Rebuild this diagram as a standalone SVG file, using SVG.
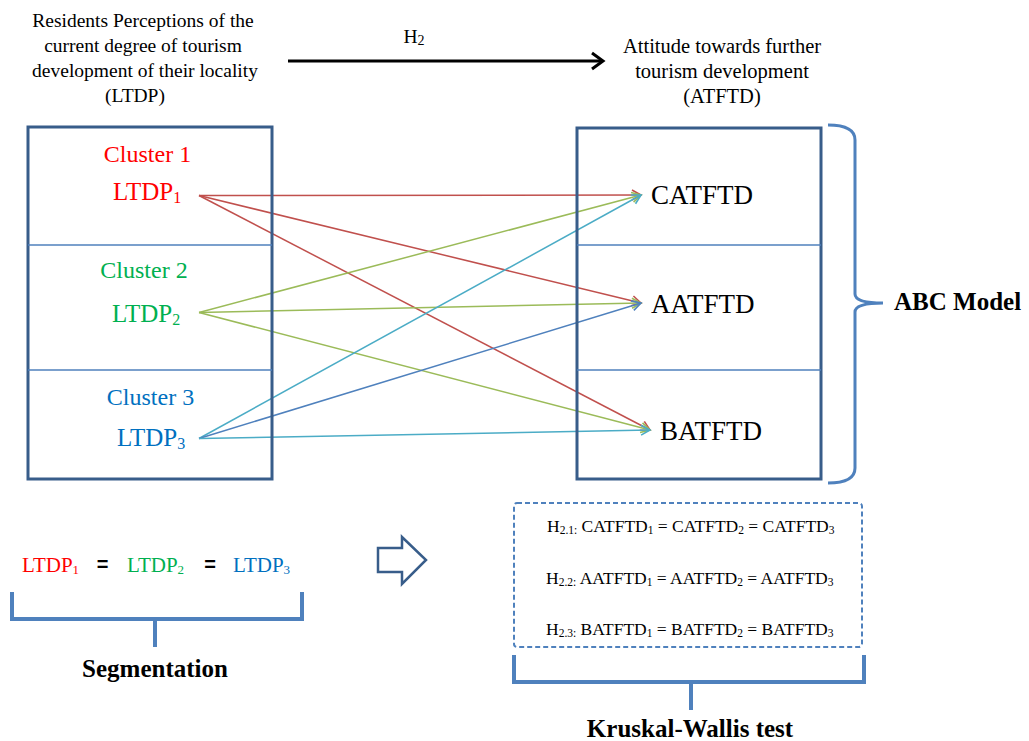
<svg xmlns="http://www.w3.org/2000/svg" width="1029" height="741" viewBox="0 0 1029 741" font-family="Liberation Serif, Times New Roman, serif">
<defs>
<style>
.hdr{font-size:19.5px;text-anchor:middle}
.hdr2{font-size:20.5px;text-anchor:middle}
.cl{font-size:24px;text-anchor:middle}
.lt{font-size:25px}
.at{font-size:27px}
.bold{font-weight:bold;font-size:25px}
.f{font-size:17.5px}
.sub{font-size:11.5px}
.red{fill:#FF0000}.grn{fill:#00B050}.blu{fill:#0070C0}
.box{fill:none;stroke:#385D8A;stroke-width:3}
.div{stroke:#4F81BD;stroke-width:1.5}
.br{fill:none;stroke:#4F81BD;stroke-width:4}
.c{fill:none;stroke-width:1.5}
</style>
<marker id="mr" markerUnits="userSpaceOnUse" markerWidth="12" markerHeight="12" refX="9" refY="5" orient="auto" overflow="visible"><path d="M0,0 L9,5 L0,10" fill="none" stroke="#C0504D" stroke-width="1.6"/></marker>
<marker id="mg" markerUnits="userSpaceOnUse" markerWidth="12" markerHeight="12" refX="9" refY="5" orient="auto" overflow="visible"><path d="M0,0 L9,5 L0,10" fill="none" stroke="#9BBB59" stroke-width="1.6"/></marker>
<marker id="mc" markerUnits="userSpaceOnUse" markerWidth="12" markerHeight="12" refX="9" refY="5" orient="auto" overflow="visible"><path d="M0,0 L9,5 L0,10" fill="none" stroke="#4BACC6" stroke-width="1.6"/></marker>
<marker id="mb" markerUnits="userSpaceOnUse" markerWidth="12" markerHeight="12" refX="9" refY="5" orient="auto" overflow="visible"><path d="M0,0 L9,5 L0,10" fill="none" stroke="#4F81BD" stroke-width="1.6"/></marker>
</defs>
<rect width="1029" height="741" fill="#fff"/>

<g id="ltdp-header">
<text class="hdr" x="143" y="27">Residents Perceptions of the</text>
<text class="hdr" x="143" y="52">current degree of tourism</text>
<text class="hdr" x="145" y="77">development of their locality</text>
<text class="hdr" x="135" y="102">(LTDP)</text>
</g>

<g id="atftd-header">
<text class="hdr2" x="722" y="53">Attitude towards further</text>
<text class="hdr2" x="722" y="78">tourism development</text>
<text class="hdr2" x="722" y="103">(ATFTD)</text>
</g>

<g id="h2-arrow">
<text class="hdr" x="414" y="43" font-size="21px">H<tspan font-size="14px" dy="2">2</tspan></text>
<line x1="288" y1="61" x2="602" y2="61" stroke="#000" stroke-width="3"/>
<path d="M592,53 L603,61 L592,69" fill="none" stroke="#000" stroke-width="3"/>
</g>

<g id="connectors">
<line class="c" stroke="#C0504D" x1="199" y1="195.5" x2="641" y2="195" marker-end="url(#mr)"/>
<line class="c" stroke="#C0504D" x1="199" y1="195.5" x2="641" y2="303" marker-end="url(#mr)"/>
<line class="c" stroke="#C0504D" x1="199" y1="195.5" x2="650" y2="430" marker-end="url(#mr)"/>
<line class="c" stroke="#9BBB59" x1="199" y1="312.5" x2="641" y2="195" marker-end="url(#mg)"/>
<line class="c" stroke="#9BBB59" x1="199" y1="312.5" x2="641" y2="303" marker-end="url(#mg)"/>
<line class="c" stroke="#9BBB59" x1="199" y1="312.5" x2="650" y2="430" marker-end="url(#mg)"/>
<line class="c" stroke="#4BACC6" x1="199" y1="438.5" x2="641" y2="195" marker-end="url(#mc)"/>
<line class="c" stroke="#4F81BD" x1="199" y1="438.5" x2="641" y2="303" marker-end="url(#mb)"/>
<line class="c" stroke="#4BACC6" x1="199" y1="438.5" x2="650" y2="430" marker-end="url(#mc)"/>
</g>

<g id="ltdp-box">
<rect class="box" x="28" y="127" width="244" height="352"/>
<line class="div" x1="28" y1="245" x2="272" y2="245"/>
<line class="div" x1="28" y1="370" x2="272" y2="370"/>
</g>
<g id="cluster1">
<text class="cl red" x="147.5" y="162">Cluster 1</text>
<text class="lt red" x="113" y="200">LTDP<tspan font-size="16px" dy="3">1</tspan></text>
</g>
<g id="cluster2">
<text class="cl grn" x="144" y="278">Cluster 2</text>
<text class="lt grn" x="112" y="322">LTDP<tspan font-size="16px" dy="3">2</tspan></text>
</g>
<g id="cluster3">
<text class="cl blu" x="150.5" y="405">Cluster 3</text>
<text class="lt blu" x="117" y="446">LTDP<tspan font-size="16px" dy="3">3</tspan></text>
</g>

<g id="atftd-box">
<rect class="box" x="577" y="128" width="244" height="351"/>
<line class="div" x1="577" y1="245" x2="821" y2="245"/>
<line class="div" x1="577" y1="370" x2="821" y2="370"/>
</g>
<g id="catftd"><text class="at" x="651" y="204">CATFTD</text></g>
<g id="aatftd"><text class="at" x="651" y="313">AATFTD</text></g>
<g id="batftd"><text class="at" x="660" y="440">BATFTD</text></g>

<g id="abc-model">
<path d="M828,125 Q855,125 855,140 L855,294 Q855,303 883,303 Q855,303 855,312 L855,468 Q855,483 828,483" fill="none" stroke="#4F81BD" stroke-width="3"/>
<text class="bold" x="894" y="310">ABC Model</text>
</g>

<g id="segmentation">
<text x="22" y="572" font-size="21px" class="red">LTDP<tspan font-size="13px" dy="2">1</tspan></text>
<text x="102.5" y="571" font-family="Liberation Sans, Arial, sans-serif" font-size="20px" font-weight="bold" text-anchor="middle">=</text>
<text x="127" y="572" font-size="21px" class="grn">LTDP<tspan font-size="13px" dy="2">2</tspan></text>
<text x="210" y="571" font-family="Liberation Sans, Arial, sans-serif" font-size="20px" font-weight="bold" text-anchor="middle">=</text>
<text x="233" y="572" font-size="21px" class="blu">LTDP<tspan font-size="13px" dy="2">3</tspan></text>
<path class="br" d="M12,592 L12,619 L302,619 L302,592 M155,619 L155,647"/>
<text class="bold" x="155" y="677" text-anchor="middle">Segmentation</text>
</g>

<g id="implies-arrow">
<polygon points="378,548 402,548 402,537 426,560 402,584 402,572 378,572" fill="#fff" stroke="#385D8A" stroke-width="2.5"/>
</g>

<g id="hypotheses">
<rect x="514" y="503" width="348" height="144" rx="3" fill="none" stroke="#4F81BD" stroke-width="2" stroke-dasharray="5 3"/>
<text class="f" x="547" y="532">H<tspan class="sub" dy="2">2.1:</tspan><tspan dy="-2"> CATFTD</tspan><tspan class="sub" dy="2">1</tspan><tspan dy="-2"> = CATFTD</tspan><tspan class="sub" dy="2">2</tspan><tspan dy="-2"> = CATFTD</tspan><tspan class="sub" dy="2">3</tspan></text>
<text class="f" x="546" y="584">H<tspan class="sub" dy="2">2.2:</tspan><tspan dy="-2"> AATFTD</tspan><tspan class="sub" dy="2">1</tspan><tspan dy="-2"> = AATFTD</tspan><tspan class="sub" dy="2">2</tspan><tspan dy="-2"> = AATFTD</tspan><tspan class="sub" dy="2">3</tspan></text>
<text class="f" x="546" y="635">H<tspan class="sub" dy="2">2.3:</tspan><tspan dy="-2"> BATFTD</tspan><tspan class="sub" dy="2">1</tspan><tspan dy="-2"> = BATFTD</tspan><tspan class="sub" dy="2">2</tspan><tspan dy="-2"> = BATFTD</tspan><tspan class="sub" dy="2">3</tspan></text>
</g>

<g id="kruskal-wallis">
<path class="br" d="M514,655 L514,682 L864,682 L864,655 M691,682 L691,710"/>
<text class="bold" x="690" y="737" text-anchor="middle">Kruskal-Wallis test</text>
</g>
</svg>
